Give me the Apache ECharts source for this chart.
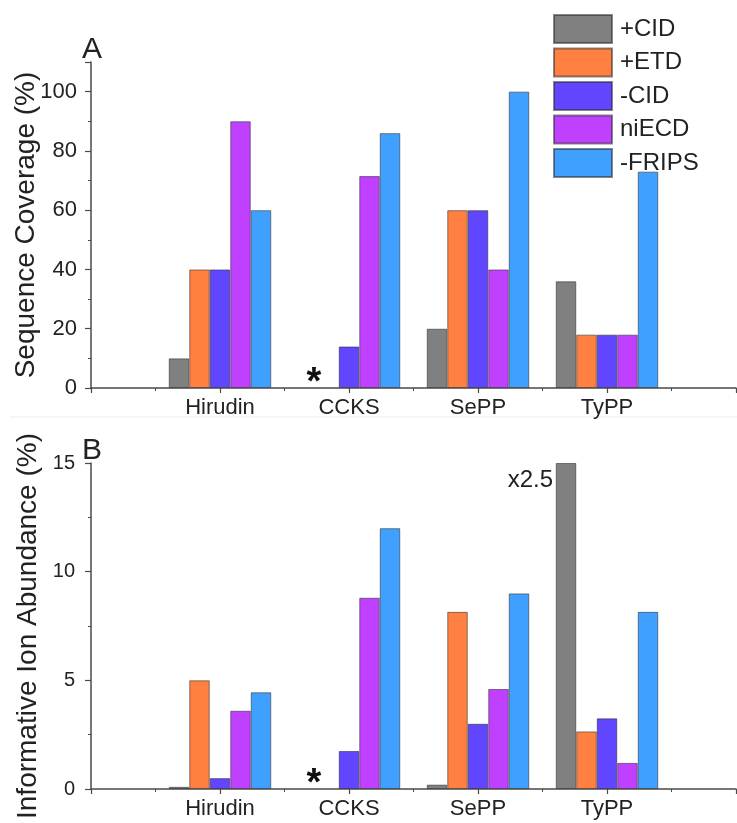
<!DOCTYPE html>
<html>
<head>
<meta charset="utf-8">
<script src="https://cdn.jsdelivr.net/npm/echarts@6/dist/echarts.min.js"></script>
<style>
html,body{margin:0;padding:0;background:#fff;}
#main{width:737px;height:823px;}
</style>
</head>
<body>
<div id="main"></div>
<script>
// ---- data ----
const categories = ['Hirudin', 'CCKS', 'SePP', 'TyPP'];
const seriesNames = ['+CID', '+ETD', '-CID', 'niECD', '-FRIPS'];
const colors = ['#808080', '#FF8040', '#6046FF', '#C040FF', '#40A0FF'];
// Panel A: Sequence Coverage (%)  (null = not observed, marked with *)
const coverageCID_pos = [10, null, 20, 36];
const coverageETD_pos = [40, null, 60, 18];
const coverageCID_neg = [40, 14, 60, 18];
const coverageNiECD = [90, 71.5, 40, 18];
const coverageFRIPS = [60, 86, 100, 73];
// Panel B: Informative Ion Abundance (%)
const abundCID_pos = [0.1, null, 0.2, 15];
const abundETD_pos = [5.0, null, 8.15, 2.65];
const abundCID_neg = [0.5, 1.75, 3.0, 3.25];
const abundNiECD = [3.6, 8.8, 4.6, 1.2];
const abundFRIPS = [4.45, 12.0, 9.0, 8.15];
const yTicksA = [0, 20, 40, 60, 80, 100];
const yTicksB = [0, 5, 10, 15];

const coverage = [coverageCID_pos, coverageETD_pos, coverageCID_neg, coverageNiECD, coverageFRIPS];
const abund = [abundCID_pos, abundETD_pos, abundCID_neg, abundNiECD, abundFRIPS];

const FONT = 'Liberation Sans, Arial, sans-serif';
const TXT = '#222';
const AX = '#4a4a4a';

function xAxisCfg(gridIndex) {
  return {
    type: 'value', gridIndex: gridIndex, min: 0, max: categories.length + 1, interval: 1,
    axisLine: { show: true, lineStyle: { color: AX, width: 1.5 } },
    axisTick: { show: true, length: 5, lineStyle: { color: AX, width: 1.2 } },
    minorTick: { show: true, splitNumber: 2, length: 3, lineStyle: { color: AX, width: 1 } },
    splitLine: { show: false },
    axisLabel: {
      margin: 9, fontSize: 22, color: TXT, fontFamily: FONT,
      formatter: function (v) { return (v >= 1 && v <= categories.length) ? categories[v - 1] : ''; }
    }
  };
}
function yAxisCfg(gridIndex, max, interval, name, ticks, nameSize, nameGap, labelSize, labelMargin) {
  return {
    type: 'value', gridIndex: gridIndex, min: 0, max: max, interval: interval,
    name: name, nameLocation: 'middle', nameGap: nameGap, nameMoveOverlap: false,
    nameTextStyle: { fontSize: nameSize, color: TXT, fontFamily: FONT },
    axisLine: { show: true, lineStyle: { color: AX, width: 1.5 } },
    axisTick: { show: true, length: 6, lineStyle: { color: AX, width: 1.2 } },
    minorTick: { show: true, splitNumber: 2, length: 3, lineStyle: { color: AX, width: 1 } },
    splitLine: { show: false },
    axisLabel: {
      margin: labelMargin, fontSize: labelSize, color: TXT, fontFamily: FONT,
      formatter: function (v) { return ticks.indexOf(v) >= 0 ? String(v) : ''; }
    }
  };
}

const series = [];
[coverage, abund].forEach(function (set, gi) {
  set.forEach(function (vals, si) {
    const s = {
      name: seriesNames[si], type: 'bar', xAxisIndex: gi, yAxisIndex: gi,
      barWidth: 20.5, barGap: '0%',
      itemStyle: { color: colors[si], borderColor: 'rgba(40,40,40,0.55)', borderWidth: 1 },
      emphasis: { disabled: true },
      data: vals.map(function (v, i) { return [i + 1, v]; })
    };
    if (si === 0) {
      const mp = [{
        coord: [2, 0], symbolSize: 0,
        label: { show: true, formatter: '*', fontSize: 38, fontWeight: 'bold', color: '#111',
                 fontFamily: FONT, offset: [6, -4.5] }
      }];
      if (gi === 1) {
        mp.push({
          coord: [4, 15], symbolSize: 0,
          label: { show: true, formatter: 'x2.5', fontSize: 24, color: TXT, fontFamily: FONT,
                   align: 'right', verticalAlign: 'middle', offset: [-13, 17] }
        });
      }
      s.markPoint = { symbol: 'circle', symbolSize: 0, silent: true, data: mp,
                      label: { position: 'inside' } };
    }
    series.push(s);
  });
});

const chart = echarts.init(document.getElementById('main'), null, { renderer: 'canvas' });
chart.setOption({
  animation: false,
  backgroundColor: '#fff',
  textStyle: { fontFamily: FONT },
  title: [
    { text: 'A', left: 77, top: 30, textStyle: { fontSize: 30, fontWeight: 'normal', color: TXT, fontFamily: FONT } },
    { text: 'B', left: 77, top: 431, textStyle: { fontSize: 30, fontWeight: 'normal', color: TXT, fontFamily: FONT } }
  ],
  legend: {
    orient: 'vertical', left: 553, top: 14, padding: 0,
    itemWidth: 58, itemHeight: 28, itemGap: 3.5,
    icon: 'rect',
    textStyle: { fontSize: 24, color: TXT, fontFamily: FONT, lineHeight: 28, padding: [0, 0, 0, 3] },
    data: seriesNames
  },
  grid: [
    { left: 91, right: 1, top: 62, bottom: 435, containLabel: false, outerBoundsMode: 'none' },
    { left: 91, right: 1, top: 463, bottom: 34, containLabel: false, outerBoundsMode: 'none' }
  ],
  xAxis: [xAxisCfg(0), xAxisCfg(1)],
  yAxis: [
    yAxisCfg(0, 110, 20, 'Sequence Coverage (%)', yTicksA, 28, 51, 22, 14),
    yAxisCfg(1, 15, 5, 'Informative Ion Abundance (%)', yTicksB, 28, 49, 20, 16)
  ],
  graphic: [
    { type: 'line', shape: { x1: 10, y1: 417, x2: 737, y2: 417 }, style: { stroke: '#ececec', lineWidth: 1 }, silent: true }
  ],
  series: series
});
</script>
</body>
</html>
